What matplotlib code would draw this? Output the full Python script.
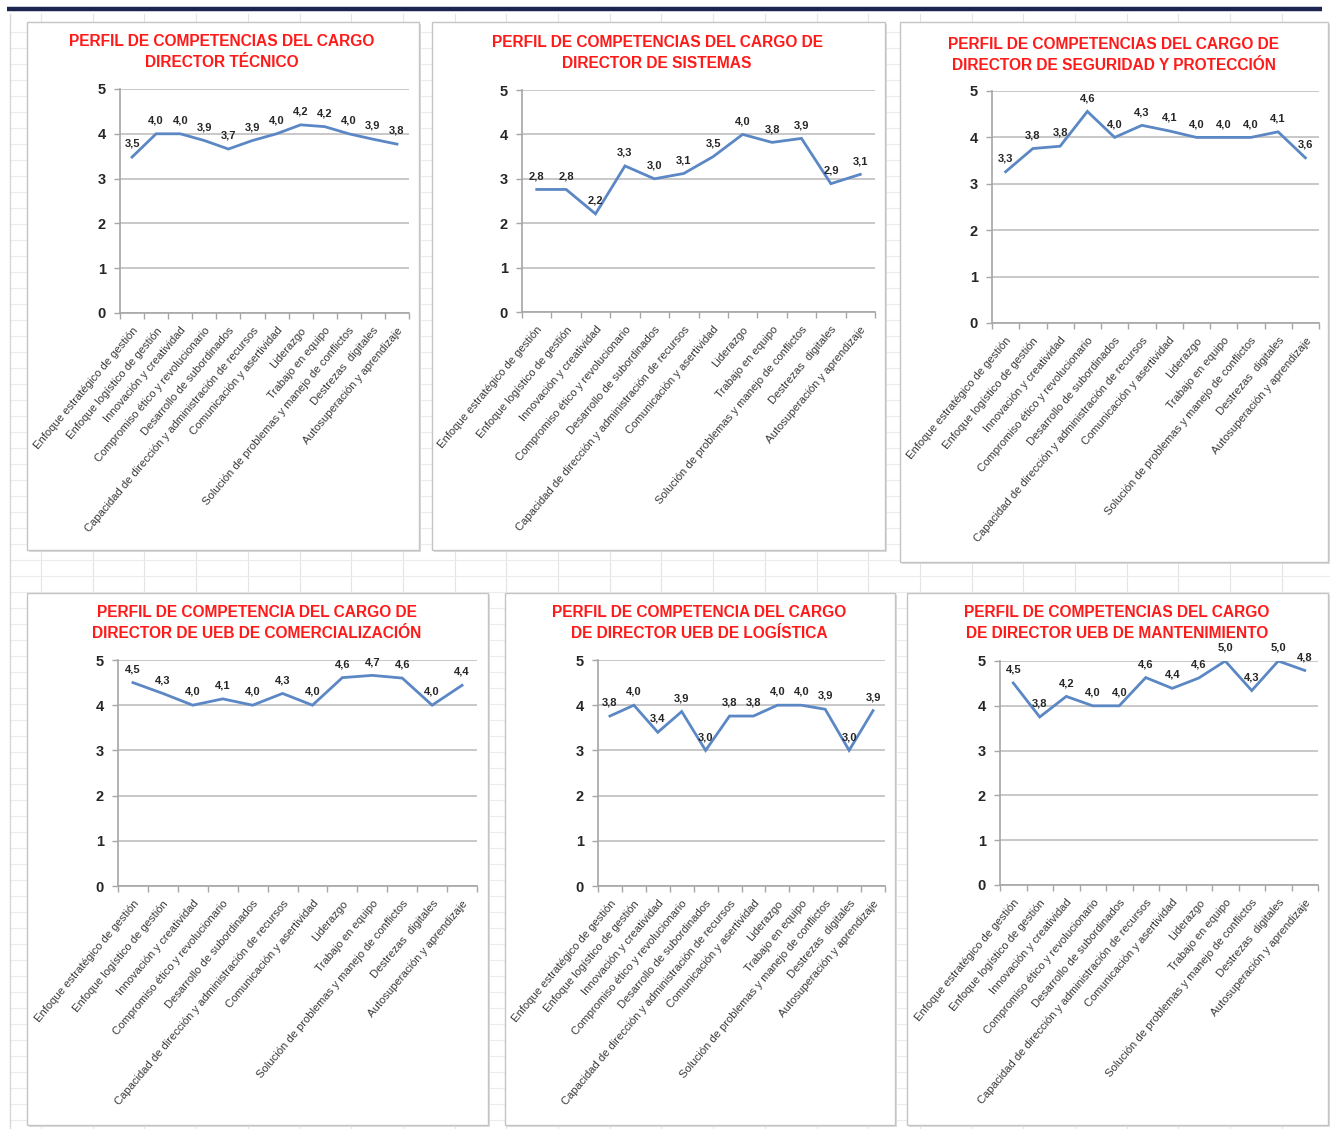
import matplotlib
matplotlib.use("Agg")
import matplotlib.pyplot as plt
from matplotlib.patches import Rectangle

W, H = 1330, 1129

categories = [
    "Enfoque estratégico de gestión",
    "Enfoque logístico de gestión",
    "Innovación y creatividad",
    "Compromiso ético y revolucionario",
    "Desarrollo de subordinados",
    "Capacidad de dirección y administración de recursos",
    "Comunicación y asertividad",
    "Liderazgo",
    "Trabajo en equipo",
    "Solución de problemas y manejo de conflictos",
    "Destrezas  digitales",
    "Autosuperación y aprendizaje",
]

titles = [
    "PERFIL DE COMPETENCIAS DEL CARGO\nDIRECTOR TÉCNICO",
    "PERFIL DE COMPETENCIAS DEL CARGO DE\nDIRECTOR DE SISTEMAS",
    "PERFIL DE COMPETENCIAS DEL CARGO DE\nDIRECTOR DE SEGURIDAD Y PROTECCIÓN",
    "PERFIL DE COMPETENCIA DEL CARGO DE\nDIRECTOR DE UEB DE COMERCIALIZACIÓN",
    "PERFIL DE COMPETENCIA DEL CARGO\nDE DIRECTOR UEB DE LOGÍSTICA",
    "PERFIL DE COMPETENCIAS DEL CARGO\nDE DIRECTOR UEB DE MANTENIMIENTO",
]

director_tecnico = [3.48, 4.0, 4.0, 3.85, 3.66, 3.85, 4.0, 4.2, 4.16, 4.0, 3.88, 3.77]
director_sistemas = [2.76, 2.76, 2.21, 3.29, 3.0, 3.12, 3.5, 4.0, 3.82, 3.91, 2.89, 3.1]
director_seguridad = [3.26, 3.76, 3.81, 4.56, 4.0, 4.26, 4.14, 4.0, 4.0, 4.0, 4.12, 3.56]
director_comercializacion = [4.5, 4.26, 4.0, 4.14, 4.0, 4.26, 4.0, 4.61, 4.66, 4.6, 4.0, 4.44]
director_logistica = [3.76, 4.0, 3.4, 3.86, 3.0, 3.76, 3.76, 4.0, 4.0, 3.91, 3.0, 3.88]
director_mantenimiento = [4.51, 3.75, 4.21, 4.0, 4.0, 4.63, 4.39, 4.62, 5.0, 4.34, 5.0, 4.79]

series = [director_tecnico, director_sistemas, director_seguridad,
          director_comercializacion, director_logistica, director_mantenimiento]

y_ticks = [0, 1, 2, 3, 4, 5]

# layout in pixels: panel box, plot area, title center
panels = [
    ((27, 22, 419, 550), (120, 89, 409, 313), (222, 52)),
    ((432, 22, 885, 550), (522, 90, 875, 312), (657, 53)),
    ((900, 22, 1328, 562), (992, 91, 1319, 323), (1114, 55)),
    ((27, 593, 488, 1125), (118, 660, 477, 886), (257, 623)),
    ((505, 593, 895, 1125), (598, 660, 885, 886), (699, 623)),
    ((907, 593, 1328, 1125), (1000, 661, 1318, 885), (1117, 623)),
]

SANS = ["Liberation Sans", "DejaVu Sans"]

fig = plt.figure(figsize=(W / 100, H / 100), dpi=100)
fig.patch.set_facecolor("white")

def fx(x):
    return x / W

def fy(y):
    return 1 - y / H

# spreadsheet background
bg = fig.add_axes([0, 0, 1, 1], zorder=-10)
bg.set_xlim(0, W)
bg.set_ylim(H, 0)
bg.axis("off")
x = 41.0
while x < W:
    bg.plot([x, x], [14, H], color="#e4e4e4", lw=0.8)
    x += 51.7
y = 32.0
while y < H:
    bg.plot([10, W], [y, y], color="#ececec", lw=0.8)
    y += 16.0
bg.plot([10, 10], [14, H], color="#d8d8d8", lw=1.0)
bg.plot([7, 1322], [9, 9], color="#1c2450", lw=3.2, solid_capstyle="butt")

for (box, area, tc), vals, title in zip(panels, series, titles):
    bx0, by0, bx1, by1 = box
    fig.patches.append(Rectangle((fx(bx0 + 2), fy(by1 + 2)), fx(bx1 - bx0), (by1 - by0) / H,
                                 transform=fig.transFigure, facecolor="#dcdcdc",
                                 edgecolor="none", zorder=0))
    fig.patches.append(Rectangle((fx(bx0), fy(by1)), fx(bx1 - bx0), (by1 - by0) / H,
                                 transform=fig.transFigure, facecolor="white",
                                 edgecolor="#c4c4c4", lw=1.0, zorder=0.5))
    ax0, ay0, ax1, ay1 = area
    ax = fig.add_axes([fx(ax0), fy(ay1), fx(ax1 - ax0), (ay1 - ay0) / H], zorder=2)
    ax.patch.set_alpha(0)
    xs = list(range(len(categories)))
    ax.plot(xs, vals, color="#5b87c5", lw=2.0, zorder=3, solid_joinstyle="miter")
    for xi, v in zip(xs, vals):
        ax.annotate(f"{v:.1f}".replace(".", ","), (xi, v), xytext=(0, 6),
                    textcoords="offset points", ha="center", va="bottom",
                    fontsize=8, fontweight="bold", color="#262626",
                    family=SANS, zorder=4)
    ax.set_xlim(-0.5, len(categories) - 0.5)
    ax.set_ylim(0, 5)
    ax.set_yticks(y_ticks)
    ax.set_yticklabels([str(t) for t in y_ticks], fontsize=10.5, fontweight="bold",
                       color="#262626", family=SANS)
    ax.yaxis.grid(True, color="#c8c8c8", lw=1.4)
    ax.set_axisbelow(True)
    ax.set_xticks([i - 0.5 for i in range(len(categories) + 1)])
    ax.set_xticklabels([])
    ax.set_xticks(xs, minor=True)
    ax.set_xticklabels(categories, minor=True, rotation=50, ha="right",
                       rotation_mode="anchor", fontsize=8.1, color="#3a3a3a",
                       family=SANS)
    ax.tick_params(axis="x", which="major", length=4, color="#a6a6a6", width=1)
    ax.tick_params(axis="x", which="minor", length=0, pad=9)
    ax.tick_params(axis="y", length=4, color="#a6a6a6", width=1, pad=6)
    for s in ["top", "right"]:
        ax.spines[s].set_visible(False)
    ax.spines["left"].set_color("#a6a6a6")
    ax.spines["bottom"].set_color("#a6a6a6")
    ax.spines["left"].set_linewidth(1.2)
    ax.spines["bottom"].set_linewidth(1.2)
    fig.text(fx(tc[0]), fy(tc[1]), title, ha="center", va="center",
             fontsize=11.2, fontweight="bold", color="#ff1a1a", family=SANS,
             linespacing=1.45)

fig.savefig("out.png", dpi=100)
